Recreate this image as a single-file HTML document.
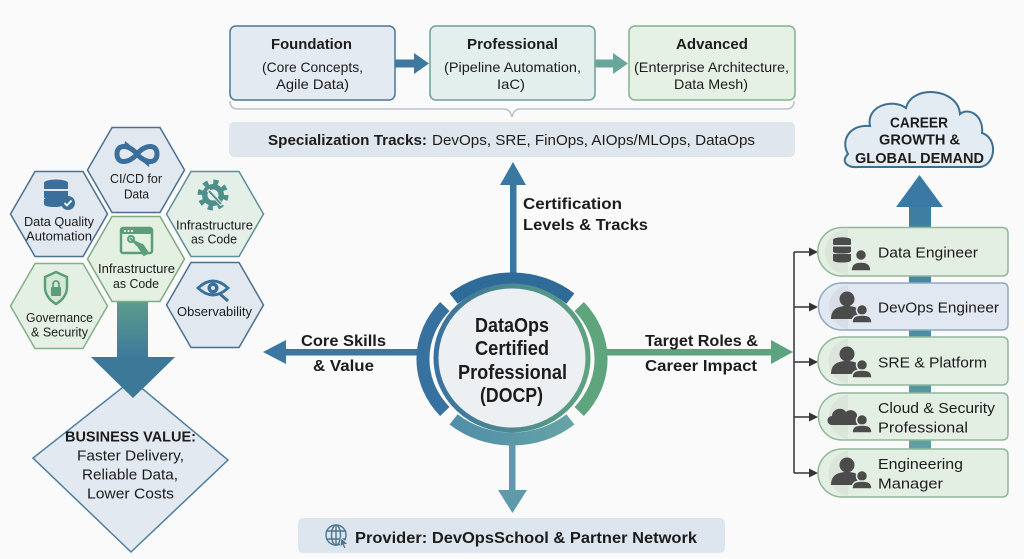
<!DOCTYPE html>
<html><head><meta charset="utf-8">
<style>
html,body{margin:0;padding:0;background:#fafafa;}
svg{display:block;font-family:"Liberation Sans",sans-serif;}
text{fill:#1c1c1c;}
.b{font-weight:bold;}
</style></head>
<body>
<svg width="1024" height="559" viewBox="0 0 1024 559" xmlns="http://www.w3.org/2000/svg">
<defs>
<linearGradient id="gL" x1="0" y1="0" x2="0" y2="1"><stop offset="0" stop-color="#62a389"/><stop offset="1" stop-color="#3c7a9a"/></linearGradient>
<linearGradient id="gCol" gradientUnits="userSpaceOnUse" x1="0" y1="175" x2="0" y2="497"><stop offset="0" stop-color="#3a79a3"/><stop offset="0.5" stop-color="#4b8ea4"/><stop offset="1" stop-color="#69a8a2"/></linearGradient>
<linearGradient id="gIn" x1="0" y1="0" x2="1" y2="0"><stop offset="0" stop-color="#3a72a0"/><stop offset="1" stop-color="#5fa27f"/></linearGradient>
<linearGradient id="gBot" x1="0" y1="0" x2="1" y2="0"><stop offset="0" stop-color="#4f8ea8"/><stop offset="1" stop-color="#66a3a6"/></linearGradient>
</defs>
<rect width="1024" height="559" fill="#fafafa"/>

<!-- top level boxes -->
<rect x="230" y="26" width="165" height="74" rx="6" fill="#e3eaf2" stroke="#4a7796" stroke-width="1.5"/>
<rect x="430" y="26" width="165" height="74" rx="6" fill="#e2efec" stroke="#6d9f9d" stroke-width="1.5"/>
<rect x="629" y="26" width="166" height="74" rx="6" fill="#e6f1e5" stroke="#84b28f" stroke-width="1.5"/>
<rect x="395" y="59.5" width="20" height="8" fill="#3d78a0"/>
<polygon points="414,53 414,74 429,63.5" fill="#3d78a0"/>
<rect x="595" y="59.5" width="19" height="8" fill="#6aa59c"/>
<polygon points="613,53 613,74 628,63.5" fill="#6aa59c"/>

<text x="271" y="49" class="b" font-size="15" textLength="81" lengthAdjust="spacingAndGlyphs">Foundation</text>
<text x="262" y="72" font-size="14" textLength="101" lengthAdjust="spacingAndGlyphs">(Core Concepts,</text>
<text x="276" y="89" font-size="14" textLength="73" lengthAdjust="spacingAndGlyphs">Agile Data)</text>
<text x="467" y="49" class="b" font-size="15" textLength="91" lengthAdjust="spacingAndGlyphs">Professional</text>
<text x="444" y="72" font-size="14" textLength="137" lengthAdjust="spacingAndGlyphs">(Pipeline Automation,</text>
<text x="497" y="89" font-size="14" textLength="28" lengthAdjust="spacingAndGlyphs">IaC)</text>
<text x="676" y="49" class="b" font-size="15" textLength="72" lengthAdjust="spacingAndGlyphs">Advanced</text>
<text x="634" y="72" font-size="14" textLength="155" lengthAdjust="spacingAndGlyphs">(Enterprise Architecture,</text>
<text x="674" y="89" font-size="14" textLength="74" lengthAdjust="spacingAndGlyphs">Data Mesh)</text>

<!-- brace -->
<path d="M230 101 Q230 109 238 109 L504 109 Q510 109 512 117 Q514 109 520 109 L786 109 Q794 109 794 101" fill="none" stroke="#b9c2ca" stroke-width="1.5"/>

<!-- spec bar -->
<rect x="229" y="122" width="566" height="35" rx="5" fill="#dfe6ee"/>
<text x="268" y="145" class="b" font-size="15" textLength="159" lengthAdjust="spacingAndGlyphs">Specialization Tracks:</text>
<text x="432" y="145" font-size="15" textLength="323" lengthAdjust="spacingAndGlyphs">DevOps, SRE, FinOps, AIOps/MLOps, DataOps</text>

<!-- central arrows -->
<rect x="510" y="182" width="6.5" height="93" fill="#3a78a2"/>
<polygon points="500,185 526,185 513,162" fill="#3a78a2"/>
<rect x="283" y="349" width="134" height="6.5" fill="#3b77a0"/>
<polygon points="286,340 286,364 263,352" fill="#3b77a0"/>
<rect x="605" y="349" width="168" height="6.5" fill="#5ca47f"/>
<polygon points="771,340 771,364 793,352" fill="#5ca47f"/>
<rect x="509" y="443" width="6.5" height="50" fill="#5f9aaa"/>
<polygon points="498,490 527,490 512.5,513" fill="#5f9aaa"/>

<text x="523" y="209" class="b" font-size="16" textLength="99" lengthAdjust="spacingAndGlyphs">Certification</text>
<text x="523" y="230" class="b" font-size="16" textLength="125" lengthAdjust="spacingAndGlyphs">Levels &amp; Tracks</text>
<text x="301" y="346" class="b" font-size="16" textLength="85" lengthAdjust="spacingAndGlyphs">Core Skills</text>
<text x="313" y="371" class="b" font-size="16" textLength="61" lengthAdjust="spacingAndGlyphs">&amp; Value</text>
<text x="645" y="346" class="b" font-size="16" textLength="113" lengthAdjust="spacingAndGlyphs">Target Roles &amp;</text>
<text x="645" y="371" class="b" font-size="16" textLength="112" lengthAdjust="spacingAndGlyphs">Career Impact</text>

<!-- central ring -->
<g fill="none" stroke-width="13">
<path d="M453.6 298.6 A89 80 0 0 1 570.4 298.6" stroke="#2f6b98"/>
<path d="M579.2 306.5 A89 80 0 0 1 579.2 411.5" stroke="#5ea57e"/>
<path d="M570.4 419.4 A89 80 0 0 1 453.6 419.4" stroke="url(#gBot)"/>
<path d="M444.8 411.5 A89 80 0 0 1 444.8 306.5" stroke="#3671a0"/>
</g>
<ellipse cx="512" cy="358" rx="76" ry="72" fill="#edf0f3" stroke="url(#gIn)" stroke-width="5"/>
<text x="475" y="332" class="b" font-size="20" textLength="74" lengthAdjust="spacingAndGlyphs">DataOps</text>
<text x="475" y="355" class="b" font-size="20" textLength="74" lengthAdjust="spacingAndGlyphs">Certified</text>
<text x="458" y="379" class="b" font-size="20" textLength="109" lengthAdjust="spacingAndGlyphs">Professional</text>
<text x="480" y="402" class="b" font-size="20" textLength="63" lengthAdjust="spacingAndGlyphs">(DOCP)</text>

<!-- provider -->
<rect x="298" y="518" width="427" height="35" rx="5" fill="#dde5ee"/>
<g fill="none" stroke="#4d7590" stroke-width="1.4">
<circle cx="336" cy="535" r="10"/>
<ellipse cx="336" cy="535" rx="4.5" ry="10"/>
<line x1="326" y1="531" x2="346" y2="531"/><line x1="326" y1="539" x2="346" y2="539"/><line x1="336" y1="525" x2="336" y2="545"/>
</g>
<polygon points="341,538 348,544 344.5,544.5 346,548 344,548.5 342.5,545 340,547" fill="#4d7590" stroke="#dde5ee" stroke-width="0.8"/>
<text x="355" y="543" class="b" font-size="16" textLength="342" lengthAdjust="spacingAndGlyphs">Provider: DevOpsSchool &amp; Partner Network</text>

<!-- left: big arrow -->
<rect x="117" y="290" width="31" height="68" fill="url(#gL)"/>
<polygon points="91,357 175,357 133,398" fill="#3c7999"/>

<!-- diamond -->
<polygon points="132,380 228,460 131,552 33,458" fill="#e2e9f1" stroke="#4f7e9c" stroke-width="1.5"/>
<polygon points="91,357 175,357 133,398" fill="#3c7999"/>
<text x="65" y="441.5" class="b" font-size="15" textLength="131" lengthAdjust="spacingAndGlyphs">BUSINESS VALUE:</text>
<text x="77" y="460.5" font-size="15" textLength="107" lengthAdjust="spacingAndGlyphs">Faster Delivery,</text>
<text x="82" y="479.5" font-size="15" textLength="96" lengthAdjust="spacingAndGlyphs">Reliable Data,</text>
<text x="87" y="498.5" font-size="15" textLength="87" lengthAdjust="spacingAndGlyphs">Lower Costs</text>

<!-- hexagons -->
<g stroke-width="1.5">
<polygon points="87.5,170 112,127.5 160,127.5 184.5,170 160,212.5 112,212.5" fill="#e1e8f0" stroke="#4c7090"/>
<polygon points="10.5,214 35,171.5 83,171.5 107.5,214 83,256.5 35,256.5" fill="#e1e8f0" stroke="#4c7090"/>
<polygon points="166.5,214 191,171.5 239,171.5 263.5,214 239,256.5 191,256.5" fill="#e4efe8" stroke="#5d8f95"/>
<polygon points="10.5,306 35,263.5 83,263.5 107.5,306 83,348.5 35,348.5" fill="#e5f0e4" stroke="#82b08a"/>
<polygon points="166.5,305 191,262.5 239,262.5 263.5,305 239,347.5 191,347.5" fill="#e1e8f0" stroke="#4c7090"/>
<polygon points="87.5,259 112,216.5 160,216.5 184.5,259 160,301.5 112,301.5" fill="#e4f0e2" stroke="#7eaa84"/>
</g>

<!-- hex icons -->
<path d="M137 154 C130 145 117 143 117 154 C117 165 130 163 137 154 C144 145 157 143 157 154 C157 165 144 163 137 154 Z" fill="none" stroke="#3b6f9b" stroke-width="5"/>
<polygon points="125,141 131,146 124,148" fill="#3b6f9b"/><polygon points="149,167 143,162 150,160" fill="#3b6f9b"/>

<g fill="#3b6f9b">
<ellipse cx="56" cy="183" rx="12" ry="3.5"/>
<rect x="44" y="183" width="24" height="6" rx="1"/>
<path d="M44 191 h24 v6 q0 3 -12 3 q-12 0 -12 -3z"/>
<path d="M44 199 h18 v7 q-3 1 -6 1 q-12 0 -12 -3z"/>
<circle cx="68" cy="203" r="7"/>
</g>
<path d="M64.5 203 l2.5 2.5 l4.5 -5" fill="none" stroke="#fff" stroke-width="1.8"/>

<g>
<circle cx="213" cy="195" r="11" fill="#4e8f8c"/>
<circle cx="213" cy="195" r="13" fill="none" stroke="#4e8f8c" stroke-width="5" stroke-dasharray="5 5.2"/>
<circle cx="213" cy="195" r="5.5" fill="#e4efe8"/>
<line x1="208" y1="190" x2="222" y2="205" stroke="#e4efe8" stroke-width="3.5"/>
<line x1="209" y1="191" x2="221" y2="204" stroke="#4e8f8c" stroke-width="2"/>
</g>

<g>
<rect x="121" y="228" width="31" height="25" rx="2" fill="none" stroke="#5a9f78" stroke-width="2.5"/>
<rect x="121" y="228" width="31" height="6" fill="#5a9f78"/>
<circle cx="125" cy="231" r="1" fill="#fff"/><circle cx="128.5" cy="231" r="1" fill="#fff"/><circle cx="132" cy="231" r="1" fill="#fff"/>
<path d="M130 238 l8 8 l6 9 l4 -2 l-6 -9" fill="#5a9f78" stroke="#5a9f78" stroke-width="2"/>
<circle cx="131" cy="239" r="3" fill="none" stroke="#5a9f78" stroke-width="2"/>
</g>

<g>
<path d="M56 272 L67 277 V287 C67 296 61 301 56 304 C51 301 45 296 45 287 V277 Z" fill="#d5e8d6" stroke="#5a9f78" stroke-width="2.5"/>
<rect x="51" y="287" width="10" height="9" rx="1" fill="#5a9f78"/>
<path d="M53 287 v-3 a3 3 0 0 1 6 0 v3" fill="none" stroke="#5a9f78" stroke-width="1.8"/>
</g>

<g>
<path d="M198 288 Q213 274 228 288 Q213 302 198 288 Z" fill="none" stroke="#3b6f9b" stroke-width="2.8"/>
<circle cx="213" cy="288" r="5.5" fill="#3b6f9b"/>
<circle cx="213" cy="288" r="2" fill="#e1e8f0"/>
<line x1="220" y1="294" x2="228" y2="301" stroke="#3b6f9b" stroke-width="3"/>
</g>

<g font-size="12.5">
<text x="110" y="183" textLength="52" lengthAdjust="spacingAndGlyphs">CI/CD for</text>
<text x="124" y="198.5" textLength="25" lengthAdjust="spacingAndGlyphs">Data</text>
<text x="24" y="226" textLength="70" lengthAdjust="spacingAndGlyphs">Data Quality</text>
<text x="26" y="240.5" textLength="66" lengthAdjust="spacingAndGlyphs">Automation</text>
<text x="176" y="229.5" textLength="77" lengthAdjust="spacingAndGlyphs">Infrastructure</text>
<text x="191" y="243.5" textLength="46" lengthAdjust="spacingAndGlyphs">as Code</text>
<text x="98" y="273" textLength="77" lengthAdjust="spacingAndGlyphs">Infrastructure</text>
<text x="113" y="288" textLength="46" lengthAdjust="spacingAndGlyphs">as Code</text>
<text x="26" y="322" textLength="67" lengthAdjust="spacingAndGlyphs">Governance</text>
<text x="31" y="336.5" textLength="57" lengthAdjust="spacingAndGlyphs">&amp; Security</text>
<text x="177" y="316" textLength="75" lengthAdjust="spacingAndGlyphs">Observability</text>
</g>

<!-- right: column arrow -->
<rect x="909" y="204" width="22" height="293" fill="url(#gCol)"/>
<polygon points="896,207 943,207 919.5,175" fill="#3a79a3"/>

<!-- cloud -->
<path d="M858 167 L980 167 C996 165 998 138 982 133 C984 115 968 107 960 114 C958 88 912 84 906 108 C892 98 866 106 870 126 C850 124 840 140 848 154 C840 162 848 168 858 167 Z" fill="#e3ebf3" stroke="#3e6f90" stroke-width="2"/>
<text x="890" y="127.5" class="b" font-size="15" textLength="58" lengthAdjust="spacingAndGlyphs">CAREER</text>
<text x="879" y="144.5" class="b" font-size="15" textLength="81" lengthAdjust="spacingAndGlyphs">GROWTH &amp;</text>
<text x="855" y="163" class="b" font-size="15" textLength="129" lengthAdjust="spacingAndGlyphs">GLOBAL DEMAND</text>

<!-- bracket connectors -->
<g stroke="#333" stroke-width="1.5" fill="none">
<line x1="794" y1="252" x2="794" y2="473"/>
<line x1="794" y1="252" x2="811" y2="252"/>
<line x1="794" y1="307" x2="811" y2="307"/>
<line x1="794" y1="362" x2="811" y2="362"/>
<line x1="794" y1="417" x2="811" y2="417"/>
<line x1="794" y1="473" x2="811" y2="473"/>
</g>
<g fill="#333">
<polygon points="809,247.5 818,252 809,256.5"/>
<polygon points="809,302.5 818,307 809,311.5"/>
<polygon points="809,357.5 818,362 809,366.5"/>
<polygon points="809,412.5 818,417 809,421.5"/>
<polygon points="809,468.5 818,473 809,477.5"/>
</g>

<!-- role boxes -->
<g stroke-width="1.5">
<path d="M842 227.5 H1002 Q1008 227.5 1008 233.5 V270 Q1008 276 1002 276 H842 A24 24 0 0 1 842 227.5 Z" fill="#e4efe3" stroke="#8fb79a"/>
<path d="M842 283 H1002 Q1008 283 1008 289 V324 Q1008 330 1002 330 H842 A23.5 23.5 0 0 1 842 283 Z" fill="#e1e8f1" stroke="#8ea8c2"/>
<path d="M842 337 H1002 Q1008 337 1008 343 V379 Q1008 385 1002 385 H842 A24 24 0 0 1 842 337 Z" fill="#e4efe3" stroke="#8fb79a"/>
<path d="M842 393 H1002 Q1008 393 1008 399 V434 Q1008 440 1002 440 H842 A23.5 23.5 0 0 1 842 393 Z" fill="#e4efe3" stroke="#8fb79a"/>
<path d="M842 449 H1002 Q1008 449 1008 455 V491 Q1008 497 1002 497 H842 A24 24 0 0 1 842 449 Z" fill="#e4efe3" stroke="#8fb79a"/>
</g>
<!-- bulge shading -->
<g fill="#000" opacity="0.035">
<path d="M848 229 A23 23 0 0 0 848 275 Z"/>
<path d="M848 284.5 A22.5 22.5 0 0 0 848 329 Z"/>
<path d="M848 338.5 A23 23 0 0 0 848 384 Z"/>
<path d="M848 394.5 A22.5 22.5 0 0 0 848 439 Z"/>
<path d="M848 450.5 A23 23 0 0 0 848 496 Z"/>
</g>

<!-- role icons -->
<g fill="#4b4b4b">
<!-- data engineer: db + person -->
<ellipse cx="842" cy="240" rx="9" ry="2.8"/>
<rect x="833" y="240" width="18" height="5" rx="1"/>
<path d="M833 246.5 h18 v5 q0 2 -9 2 q-9 0 -9 -2z"/>
<path d="M833 254 h18 v6 q0 2.5 -9 2.5 q-9 0 -9 -2.5z"/>
<g stroke="#e4efe3" stroke-width="1.5">
<circle cx="861" cy="255" r="5.5"/>
<path d="M851 271 C851 264 855 262 861 262 C867 262 871 264 871 271 Z"/>
</g>
</g>

<g id="pp" fill="#4b4b4b">
<circle cx="847" cy="299" r="7.5"/>
<path d="M831 319 C831 309 838 306 847 306 C856 306 862 309 862 319 Z"/>
<g stroke="#e1e8f1" stroke-width="1.5">
<circle cx="862" cy="310" r="5.5"/>
<path d="M852 323 C852 316 856 315 862 315 C868 315 872 316 872 323 Z"/>
</g>
</g>
<g fill="#4b4b4b">
<circle cx="847" cy="354" r="7.5"/>
<path d="M831 374 C831 364 838 361 847 361 C856 361 862 364 862 374 Z"/>
<g stroke="#e4efe3" stroke-width="1.5">
<circle cx="862" cy="365" r="5.5"/>
<path d="M852 378 C852 371 856 370 862 370 C868 370 872 371 872 378 Z"/>
</g>
</g>
<g fill="#4b4b4b">
<path d="M832 425 C826 425 826 416 832 416 C832 409 842 406 846 412 C850 408 858 411 857 417 C861 418 861 425 857 425 Z"/>
<g stroke="#e4efe3" stroke-width="1.5">
<circle cx="862" cy="420" r="5.5"/>
<path d="M852 433 C852 426 856 425 862 425 C868 425 872 426 872 433 Z"/>
</g>
</g>
<g fill="#4b4b4b">
<circle cx="847" cy="465" r="7.5"/>
<path d="M831 485 C831 475 838 472 847 472 C856 472 862 475 862 485 Z"/>
<g stroke="#e4efe3" stroke-width="1.5">
<circle cx="862" cy="476" r="5.5"/>
<path d="M852 489 C852 482 856 481 862 481 C868 481 872 482 872 489 Z"/>
</g>
</g>

<g font-size="15">
<text x="878" y="257.5" textLength="100" lengthAdjust="spacingAndGlyphs">Data Engineer</text>
<text x="878" y="312.5" textLength="121" lengthAdjust="spacingAndGlyphs">DevOps Engineer</text>
<text x="878" y="367.5" textLength="109" lengthAdjust="spacingAndGlyphs">SRE &amp; Platform</text>
<text x="878" y="413" textLength="117" lengthAdjust="spacingAndGlyphs">Cloud &amp; Security</text>
<text x="878" y="432.5" textLength="90" lengthAdjust="spacingAndGlyphs">Professional</text>
<text x="878" y="469" textLength="85" lengthAdjust="spacingAndGlyphs">Engineering</text>
<text x="878" y="488.5" textLength="65" lengthAdjust="spacingAndGlyphs">Manager</text>
</g>
</svg>
</body></html>
